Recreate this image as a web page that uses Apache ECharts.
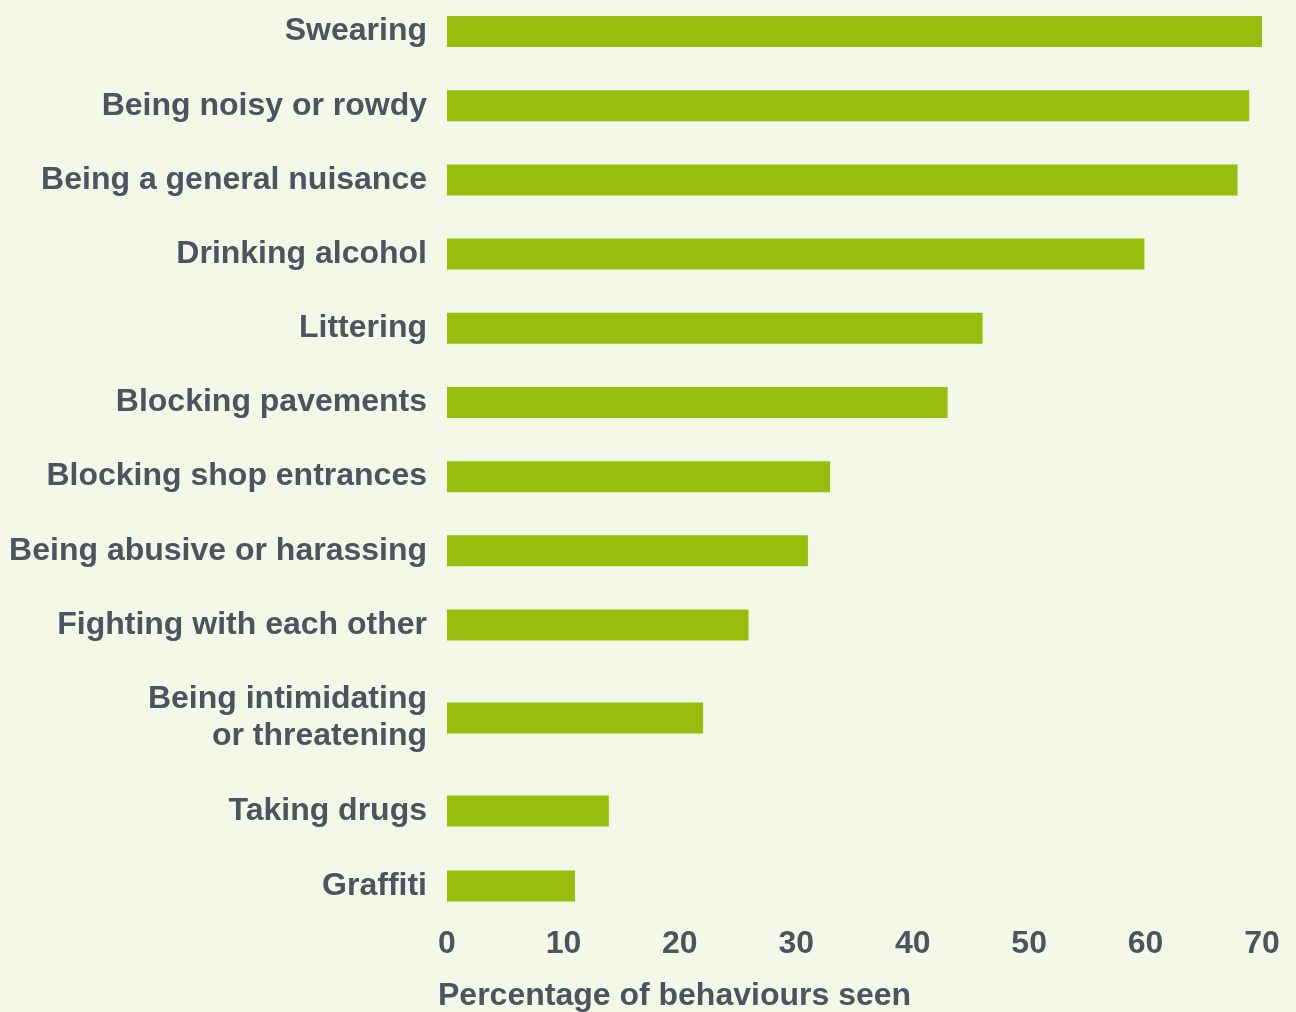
<!DOCTYPE html>
<html>
<head>
<meta charset="utf-8">
<script src="https://cdn.jsdelivr.net/npm/echarts@6/dist/echarts.min.js"></script>
<style>
html,body{margin:0;padding:0;background:#f4f8e8;}
#chart{width:1296px;height:1012px;}
</style>
</head>
<body>
<div id="chart"></div>
<script>
var categories = ['Swearing','Being noisy or rowdy','Being a general nuisance','Drinking alcohol','Littering','Blocking pavements','Blocking shop entrances','Being abusive or harassing','Fighting with each other','Being intimidating\nor threatening','Taking drugs','Graffiti'];
var values = [70, 68.9, 67.9, 59.9, 46, 43, 32.9, 31, 25.9, 22, 13.9, 11];
var xTicks = [0, 10, 20, 30, 40, 50, 60, 70];
var axisName = 'Percentage of behaviours seen';

var textColor = '#4a5560';
var barColor = '#97bd0d';
var font = 'Liberation Sans';
var fs = 32;

// groups of categories (the two-line label gets a taller slot)
var groups = [[0, 9], [9, 10], [10, 12]];
var gridBoxes = [
  {top: 31.5, height: 593.5, gap: false},
  {top: 673, height: 90, gap: true},
  {top: 773.5, height: 150, gap: true}
];

var grids = [], xAxes = [], yAxes = [], series = [];
groups.forEach(function (g, i) {
  grids.push({left: 447, right: 34, top: gridBoxes[i].top, height: gridBoxes[i].height, containLabel: false});
  var last = i === groups.length - 1;
  xAxes.push({
    type: 'value', gridIndex: i, min: xTicks[0], max: xTicks[xTicks.length - 1], interval: 10,
    show: last,
    axisLine: {show: false}, axisTick: {show: false}, splitLine: {show: false},
    axisLabel: {show: last, margin: 5, color: textColor, fontSize: fs, fontWeight: 'bold', fontFamily: font}
  });
  yAxes.push({
    type: 'category', gridIndex: i, inverse: true, boundaryGap: gridBoxes[i].gap,
    data: categories.slice(g[0], g[1]),
    axisLine: {show: false}, axisTick: {show: false}, splitLine: {show: false},
    axisLabel: {margin: 20, color: textColor, fontSize: fs, fontWeight: 'bold', fontFamily: font, lineHeight: 37, align: 'right'}
  });
  series.push({
    type: 'bar', xAxisIndex: i, yAxisIndex: i,
    data: values.slice(g[0], g[1]),
    barWidth: 31,
    itemStyle: {color: barColor},
    silent: true
  });
});

var chart = echarts.init(document.getElementById('chart'), null, {renderer: 'canvas'});
chart.setOption({
  backgroundColor: '#f4f8e8',
  animation: false,
  title: {
    text: axisName, left: 433, top: 975,
    textStyle: {color: textColor, fontSize: fs, fontWeight: 'bold', fontFamily: font}
  },
  grid: grids,
  xAxis: xAxes,
  yAxis: yAxes,
  series: series
});
</script>
</body>
</html>
